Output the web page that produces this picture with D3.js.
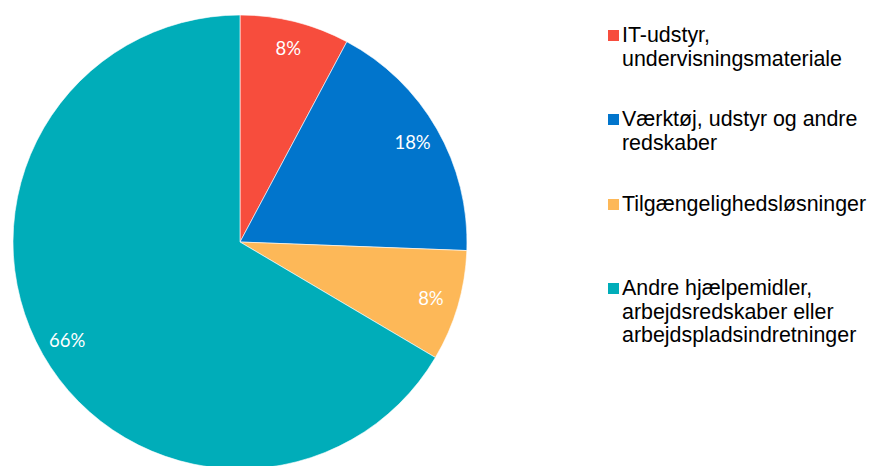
<!DOCTYPE html>
<html><head><meta charset="utf-8">
<script src="https://cdn.jsdelivr.net/npm/d3@7"></script>
<style>html,body{margin:0;padding:0;background:#fff;}svg{display:block;}</style>
</head><body>
<svg id="chart" width="870" height="466"></svg>
<script>
const categories = [
  ["IT-udstyr,", "undervisningsmateriale"],
  ["Værktøj, udstyr og andre", "redskaber"],
  ["Tilgængelighedsløsninger"],
  ["Andre hjælpemidler,", "arbejdsredskaber eller", "arbejdspladsindretninger"]
];
const values = [7.8, 17.8, 7.9, 66.5];
const labels = ["8%", "18%", "8%", "66%"];
const colors = ["#F74D3D", "#0175CC", "#FDB858", "#00ADB9"];

const svg = d3.select("#chart");
const cx = 240, cy = 242, R = 227;
const pie = d3.pie().sort(null).value(d => d)(values);
const arc = d3.arc().innerRadius(0).outerRadius(R);
const labelArc = d3.arc().innerRadius(199).outerRadius(199);

const g = svg.append("g").attr("transform", `translate(${cx},${cy})`);
g.selectAll("path").data(pie).join("path")
  .attr("d", arc)
  .attr("fill", (d, i) => colors[i])
  .attr("stroke", "#fff").attr("stroke-width", 0.6);

g.selectAll("text").data(pie).join("text")
  .attr("transform", d => `translate(${labelArc.centroid(d)})`)
  .attr("text-anchor", "middle")
  .attr("dy", "0.35em")
  .attr("fill", "#fff")
  .style("font-family", "Lato, 'Open Sans', sans-serif")
  .style("font-size", "18.5px")
  .text((d, i) => labels[i]);

const legendTops = [42, 126, 211, 295];
const lg = svg.append("g");
categories.forEach((lines, i) => {
  const y0 = legendTops[i];
  lg.append("rect").attr("x", 608).attr("y", y0 - 12).attr("width", 11).attr("height", 11)
    .attr("fill", colors[i]);
  const t = lg.append("text").attr("x", 622).attr("y", y0)
    .attr("fill", "#000")
    .style("font-family", "'Liberation Sans', Arial, sans-serif")
    .style("font-size", "21.4px");
  lines.forEach((ln, j) => {
    t.append("tspan").attr("x", 622).attr("y", y0 + j * 23.5).text(ln);
  });
});
</script>
</body></html>
